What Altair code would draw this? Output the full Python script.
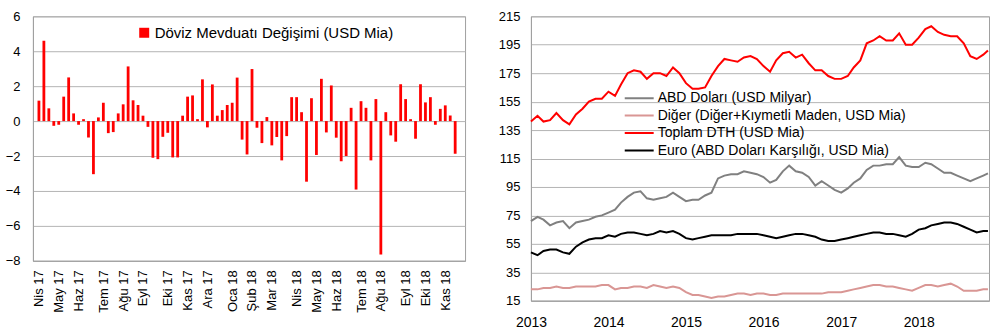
import altair as alt
import pandas as pd

# ---------------- Left panel: weekly FX deposit change (USD bn) ----------------
bar_series = "Döviz Mevduatı Değişimi (USD Mia)"
weekly_change = [
    1.17, 4.60, 0.73, -0.27, -0.21, 1.40, 2.50, 0.44, -0.21, 0.11,
    -0.94, -3.04, 0.21, 1.05, -0.69, -0.63, 0.44, 0.96, 3.13, 1.19,
    0.92, 0.31, -0.33, -2.10, -2.18, -0.90, -0.67, -2.08, -2.08, 0.31,
    1.40, 1.47, 0.11, 2.39, -0.36, 2.10, 0.31, 0.63, 0.92, 1.05,
    2.49, -1.06, -1.91, 2.98, -0.38, -1.26, 0.23, -1.39, -0.91, -2.25,
    -0.86, 1.37, 1.37, 0.51, -3.47, 1.31, -1.94, 2.42, -0.65, 2.04,
    -0.95, -2.30, -2.00, 0.76, -3.92, 1.14, 0.76, -2.25, 1.26, -7.64,
    0.51, -0.82, -1.18, 2.11, 1.26, 0.11, -1.01, 2.11, 1.07, 1.37,
    -0.21, 0.70, 0.90, 0.32, -1.87,
]
week_dates = [d.strftime("%Y-%m-%d") for d in pd.date_range("2017-04-07", periods=len(weekly_change), freq="7D")]
tr_months = ["Oca", "Şub", "Mar", "Nis", "May", "Haz", "Tem", "Ağu", "Eyl", "Eki", "Kas", "Ara"]
# first weekly observation of each month carries the month label
label_weeks = ["2017-04-07", "2017-05-05", "2017-06-02", "2017-07-07", "2017-08-04", "2017-09-01",
               "2017-10-06", "2017-11-03", "2017-12-01", "2018-01-05", "2018-02-02", "2018-03-02",
               "2018-04-06", "2018-05-04", "2018-06-01", "2018-07-06", "2018-08-03", "2018-09-07",
               "2018-10-05", "2018-11-02"]
left_y_ticks = [-8, -6, -4, -2, 0, 2, 4, 6]

# ---------------- Right panel: FX deposits by currency (monthly readings) ----------------
series_names = ["ABD Doları (USD Milyar)", "Diğer (Diğer+Kıymetli Maden, USD Mia)",
                "Toplam DTH (USD Mia)", "Euro (ABD Doları Karşılığı, USD Mia)"]
series_colors = ["#808080", "#D99694", "#FF0000", "#000000"]
month_dates = [d.strftime("%Y-%m-%d") for d in pd.date_range("2013-01-01", periods=71, freq="MS")] + ["2018-11-23"]

usd = [71, 74, 72, 68, 70, 71, 66, 70, 71, 72, 74, 75,
       77, 79, 84, 88, 91, 92, 87, 86, 87, 88, 91, 88,
       85, 86, 86, 89, 91, 101, 103, 104, 104, 106, 105, 104,
       102, 98, 100, 106, 110, 106, 105, 102, 96, 99, 96, 93,
       91, 94, 98, 101, 107, 110, 110, 111, 111, 116, 110, 109,
       109, 112, 111, 108, 105, 105, 103, 101, 99, 101, 103, 104.5]
other = [23, 23, 24, 24, 25, 24, 24, 25, 25, 25, 25, 26,
         26, 23, 24, 24, 25, 25, 24, 26, 25, 24, 25, 24,
         21, 19, 19, 18, 17, 18, 18, 19, 20, 20, 19, 20,
         20, 19, 19, 20, 20, 20, 20, 20, 20, 20, 21, 21,
         21, 22, 23, 24, 25, 26, 26, 25, 25, 24, 23, 22,
         24, 26, 26, 25, 26, 27, 25, 22, 22, 22, 23, 23]
total = [141, 145, 141, 142, 147, 142, 139, 146, 150, 155, 157, 157,
         162, 159, 167, 175, 177, 176, 171, 175, 175, 173, 179, 175,
         168, 164, 164, 165, 173, 180, 185, 184, 183, 186, 187, 185,
         180, 176, 184, 189, 190, 186, 188, 182, 177, 177, 173, 171,
         171, 173, 179, 184, 196, 198, 201, 198, 198, 203, 195, 195,
         200, 206, 208, 204, 202, 201, 201, 196, 187, 185, 188, 191]
euro = [49, 47, 50, 51, 51, 49, 48, 53, 56, 58, 59, 59,
        61, 60, 62, 63, 63, 62, 61, 62, 64, 63, 64, 62,
        59, 58, 59, 60, 61, 61, 61, 61, 62, 62, 62, 62,
        61, 60, 59, 60, 61, 62, 62, 61, 60, 58, 57, 57,
        58, 59, 60, 61, 62, 63, 63, 62, 62, 61, 60, 62,
        65, 66, 68, 69, 70, 70, 69, 67, 65, 63, 64, 64]
year_ticks = ["2013-01-01", "2014-01-01", "2015-01-01", "2016-01-01", "2017-01-01", "2018-01-01"]
right_y_ticks = [15, 35, 55, 75, 95, 115, 135, 155, 175, 195, 215]

FONT = "Liberation Sans"

# ---------- left chart ----------
bars_df = pd.DataFrame({"date": week_dates,
                        "value": weekly_change,
                        "series": [bar_series] * len(weekly_change)})

months_js = "[" + ",".join("'" + s + "'" for s in tr_months) + "]"
left_start = (pd.Timestamp(week_dates[0]) - pd.Timedelta(hours=34)).strftime("%Y-%m-%dT%H:%M:%S")
left_end = (pd.Timestamp(week_dates[-1]) + pd.Timedelta(hours=166)).strftime("%Y-%m-%dT%H:%M:%S")

left = alt.Chart(bars_df).mark_bar(size=2.8).encode(
    x=alt.X("date:T",
            scale=alt.Scale(type="utc", domain=[left_start + "Z", left_end + "Z"], nice=False),
            axis=alt.Axis(values=label_weeks,
                          labelExpr=f"{months_js}[utcmonth(datum.value)] + ' ' + utcFormat(datum.value, '%y')",
                          labelAngle=270, ticks=False, grid=False, title=None,
                          labelPadding=9, labelFontSize=13, labelOverlap=False, labelFlush=False)),
    y=alt.Y("value:Q",
            scale=alt.Scale(domain=[-8, 6], nice=False),
            axis=alt.Axis(values=left_y_ticks, ticks=False, grid=True, title=None,
                          labelPadding=13, labelFontSize=13)),
    color=alt.Color("series:N",
                    scale=alt.Scale(domain=[bar_series], range=["#FF0000"]),
                    legend=alt.Legend(title=None, orient="none", legendX=104, legendY=9,
                                      symbolType="square", symbolSize=100, labelFontSize=15,
                                      labelOffset=3, padding=0, symbolStrokeWidth=0, labelLimit=0)),
).properties(width=433, height=245)

# ---------- right chart ----------
rows = []
for name, vals in zip(series_names, [usd, other, total, euro]):
    for d, v in zip(month_dates, vals):
        rows.append({"date": d, "value": v, "series": name})
lines_df = pd.DataFrame(rows)

right = alt.Chart(lines_df).mark_line(strokeWidth=2).encode(
    x=alt.X("date:T",
            scale=alt.Scale(type="utc", domain=["2013-01-01", "2018-11-28"], nice=False),
            axis=alt.Axis(values=year_ticks, labelExpr="utcFormat(datum.value, '%Y')",
                          ticks=False, grid=False, title=None,
                          labelPadding=15, labelFontSize=14, labelFlush=False, labelOverlap=False)),
    y=alt.Y("value:Q",
            scale=alt.Scale(domain=[15, 215], nice=False, zero=False),
            axis=alt.Axis(values=right_y_ticks, ticks=False, grid=True, title=None,
                          labelPadding=11, labelFontSize=13)),
    color=alt.Color("series:N", sort=series_names,
                    scale=alt.Scale(domain=series_names, range=series_colors),
                    legend=alt.Legend(title=None, orient="none", legendX=93, legendY=75,
                                      symbolType="stroke", symbolSize=841, symbolStrokeWidth=2,
                                      labelFontSize=14, labelOffset=3, padding=0,
                                      clipHeight=14, rowPadding=3.5, labelLimit=0)),
).properties(width=459, height=285)

chart = alt.hconcat(left, right, spacing=31).resolve_scale(
    color="independent", x="independent"
).resolve_legend(color="independent").properties(
    padding={"left": 4, "top": 9, "right": 0, "bottom": 0}
).configure_view(stroke="#A0A0A0").configure_axis(
    labelFont=FONT, labelColor="#000000", domainColor="#A0A0A0",
    gridColor="#B4B4B4", gridWidth=1
).configure_legend(labelFont=FONT, labelColor="#000000")

chart.save("out.html", embed_options={"renderer": "svg", "actions": False})
